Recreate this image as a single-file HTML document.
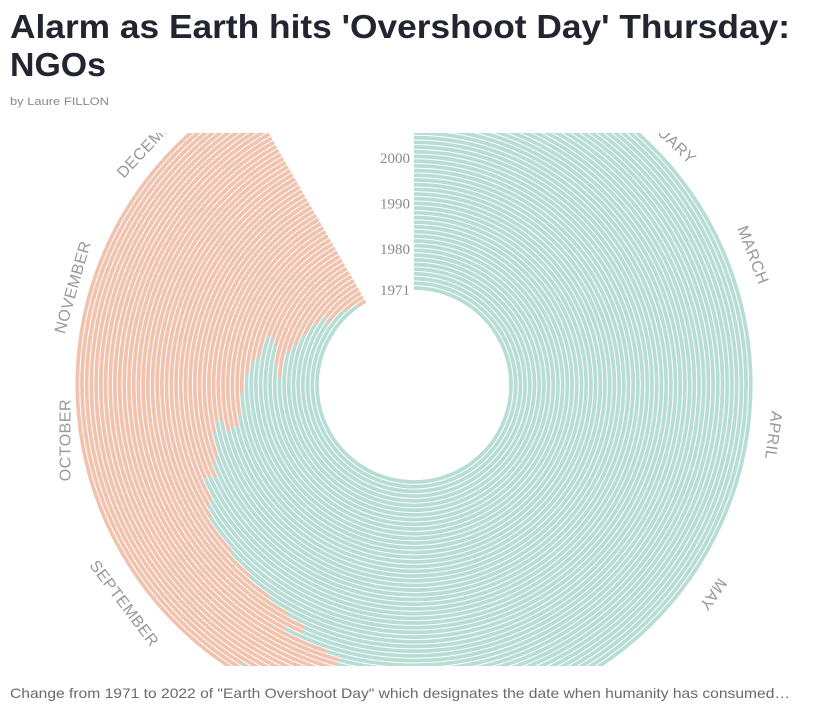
<!DOCTYPE html>
<html><head><meta charset="utf-8"><style>
html,body{margin:0;padding:0;background:#fff;width:816px;height:706px;overflow:hidden}
svg{display:block}
</style></head><body>
<svg id="s" width="816" height="706" viewBox="0 0 816 706" xmlns="http://www.w3.org/2000/svg">
<text x="10" y="38" font-family="Liberation Sans, sans-serif" font-weight="bold" font-size="33" fill="#22252f" textLength="780" lengthAdjust="spacingAndGlyphs">Alarm as Earth hits 'Overshoot Day' Thursday:</text>
<text x="10" y="76" font-family="Liberation Sans, sans-serif" font-weight="bold" font-size="33" fill="#22252f" textLength="96" lengthAdjust="spacingAndGlyphs">NGOs</text>
<text x="10" y="105" font-family="Liberation Sans, sans-serif" font-size="11" fill="#8a8a8a" textLength="99" lengthAdjust="spacingAndGlyphs">by Laure FILLON</text>
<text x="10" y="698" font-family="Liberation Sans, sans-serif" font-size="14" fill="#6a6a6a" textLength="780" lengthAdjust="spacingAndGlyphs">Change from 1971 to 2022 of "Earth Overshoot Day" which designates the date when humanity has consumed…</text>
<defs><clipPath id="c"><rect x="0" y="133" width="816" height="533"/></clipPath></defs>
<g id="chart" clip-path="url(#c)"></g>
</svg>
<script>
var days=[359,350,338,341,334,326,319,315,302,308,316,319,319,310,308,303,296,288,284,284,283,287,287,284,277,275,271,272,272,266,265,262,252,244,237,231,226,226,230,219,216,216,215,216,217,217,213,210,210,234,210,209];
var cx=414,cy=385,r0=97,dr=4.7,END=330;
var g=document.getElementById('chart'),h='';
function pt(r,a){a=a*Math.PI/180;return (cx+r*Math.sin(a)).toFixed(2)+','+(cy-r*Math.cos(a)).toFixed(2);}
function arc(r,a1,a2,col){var l=(a2-a1)>180?1:0;return '<path d="M'+pt(r,a1)+' A'+r+','+r+' 0 '+l+' 1 '+pt(r,a2)+'" fill="none" stroke="'+col+'" stroke-width="3.7"/>';}
for(var i=0;i<days.length;i++){var r=r0+i*dr;var a=days[i]/365*END;
h+=arc(r,0,a,'#b7ddd4');h+=arc(r,a,END,'#f1c2ae');}
var labs=[['FEBRUARY',44,44,354],['MARCH',69,69,362],['APRIL',98,98,362],['MAY',125,125,364],['SEPTEMBER',233,53,364],['OCTOBER',261,-90,352],['NOVEMBER',286,-74,354],['DECEMBER',313,-47,357]];
labs.forEach(function(L){var a=L[1]*Math.PI/180,R=L[3];var x=cx+R*Math.sin(a),y=cy-R*Math.cos(a);
h+='<text x="'+x.toFixed(1)+'" y="'+y.toFixed(1)+'" transform="rotate('+L[2]+' '+x.toFixed(1)+' '+y.toFixed(1)+')" text-anchor="middle" dominant-baseline="middle" font-family="Liberation Sans, sans-serif" font-size="16" fill="#999" letter-spacing="0.5">'+L[0]+'</text>';});
[[1971,0],[1980,9],[1990,19],[2000,29]].forEach(function(Y){var y=cy-(r0+Y[1]*4.55);
h+='<text x="410" y="'+(y+7)+'" text-anchor="end" font-family="Liberation Serif, serif" font-size="15" fill="#8a8a8a">'+Y[0]+'</text>';});
g.innerHTML=h;
</script>
</body></html>
